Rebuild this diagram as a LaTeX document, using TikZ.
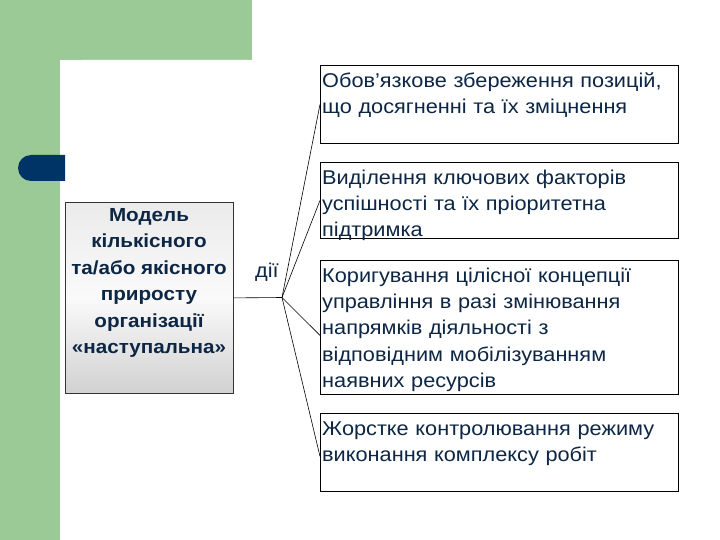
\documentclass[tikz,border=0pt]{standalone}
\usepackage{fontspec}
\setmainfont{Liberation Sans}[FakeStretch=1.09]
\definecolor{bggreen}{RGB}{155,202,150}
\definecolor{pillblue}{RGB}{0,51,102}
\definecolor{txtnavy}{RGB}{12,38,68}
\begin{document}
\begin{tikzpicture}[x=1bp,y=-1bp,
  box/.style={draw=black,line width=0.8bp,anchor=north west,inner sep=0pt},
  boxtext/.style={anchor=north west,inner xsep=2bp,inner ysep=3.5bp,text width=354bp,align=left,
    font=\fontsize{20}{26.5}\selectfont,text=txtnavy},
  link/.style={draw=black,line width=0.6bp}]
\useasboundingbox (0,0) rectangle (720,540);
\fill[white] (0,0) rectangle (720,540);
% green frame
\fill[bggreen] (0,0) rectangle (252,60);
\fill[bggreen] (0,0) rectangle (60,540);
\fill[white] (720,540) -- (60,540) -- (60,82) arc[start angle=180,end angle=270,radius=22] -- (720,60) -- cycle;
% pill
\fill[pillblue] (65,155) -- (31,155) arc[start angle=270,end angle=90,radius=13] -- (65,181) -- cycle;
% left box
\node[box,draw=black!80,top color=black!8,bottom color=black!18,middle color=black!2,minimum width=168bp,minimum height=191bp] (m) at (65,202) {};
\node[align=center,font=\fontsize{19}{26.5}\bfseries\selectfont,text=txtnavy] (mt) at (149,283)
 {Модель\\кількісного\\та/або якісного\\приросту\\організації\\«наступальна»};
\node[font=\fontsize{20}{20}\selectfont,text=txtnavy] (d) at (267,272) {дії};
% right boxes
\node[box,minimum width=358bp,minimum height=78bp] (b1) at (320,65) {};
\node[box,minimum width=358bp,minimum height=76bp] (b2) at (320,162) {};
\node[box,minimum width=358bp,minimum height=134bp] (b3) at (320,260) {};
\node[box,minimum width=358bp,minimum height=78bp] (b4) at (320,413) {};
\node[boxtext] (t1) at (b1.north west) {\strut Обов’язкове збереження позицій,\\що досягненні та їх зміцнення};
\node[boxtext] (t2) at (b2.north west) {\strut Виділення ключових факторів\\успішності та їх пріоритетна\\підтримка};
\node[boxtext] (t3) at (b3.north west) {\strut Коригування цілісної концепції\\управління в разі змінювання\\напрямків діяльності з\\відповідним мобілізуванням\\наявних ресурсів};
\node[boxtext] (t4) at (b4.north west) {\strut Жорстке контролювання режиму\\виконання комплексу робіт};
% connectors
\coordinate (j) at (282,297.5);
\draw[link] (m.east) -- (j);
\draw[link] (j) -- (b1.west);
\draw[link] (j) -- (b2.west);
\draw[link] (j) -- ([yshift=-8bp]b3.west);
\draw[link] (j) -- ([yshift=-4bp]b4.west);
\end{tikzpicture}
\end{document}
